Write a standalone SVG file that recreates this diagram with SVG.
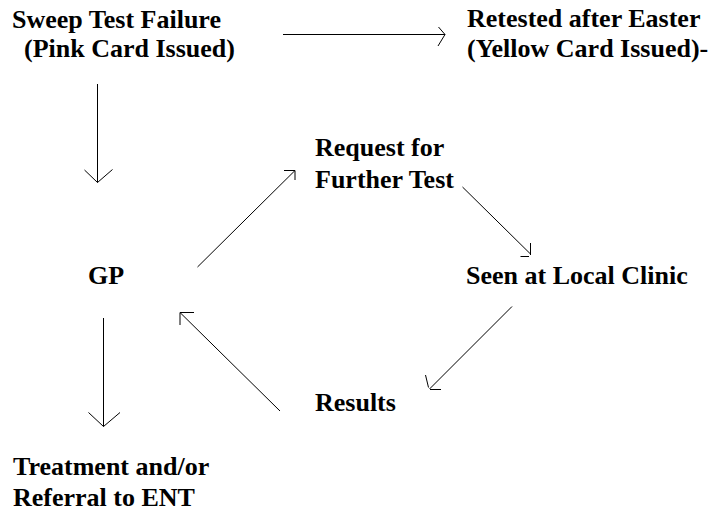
<svg xmlns="http://www.w3.org/2000/svg" width="713" height="513" viewBox="0 0 713 513">
<style>
.t{font-family:"Liberation Serif","Times New Roman",serif;font-weight:bold;font-size:26px;fill:#000}
.c{fill:none;stroke:#000;stroke-width:1}
</style>
<rect width="713" height="513" fill="#fff"/>
<g class="t">
<g id="sweep"><text x="12" y="28">Sweep Test Failure</text><text x="24" y="57">(Pink Card Issued)</text></g>
<g id="retested"><text x="467" y="27">Retested after Easter</text><text x="467" y="57">(Yellow Card Issued)-</text></g>
<g id="gp"><text x="88" y="284">GP</text></g>
<g id="request"><text x="315" y="156">Request for</text><text x="315" y="188">Further Test</text></g>
<g id="clinic"><text x="466" y="284">Seen at Local Clinic</text></g>
<g id="results"><text x="315" y="411">Results</text></g>
<g id="treatment"><text x="13" y="475">Treatment and/or</text><text x="13" y="506">Referral to ENT</text></g>
</g>
<g id="connectors">
<path class="c" d="M283,34.5H445M438.5,27L445,34.5L438,46"/>
<path class="c" d="M97.5,84V182.5M84.5,170L97.5,182.5L112.5,169.5"/>
<path class="c" d="M103.5,318V426.5M88.5,412.5L103.5,426.5L120,412.5"/>
<path class="c" d="M197.5,267L295,170.5M284,170.5H295V180"/>
<path class="c" d="M462.5,187L530.5,254M530.5,243V255M520.5,256.5H529"/>
<path class="c" d="M512,306.5L429.5,389M425.5,375L428.5,387.5M430,389.5H441"/>
<path class="c" d="M280,411L180,312.5M194,312.5H180V325"/>
</g>
</svg>
